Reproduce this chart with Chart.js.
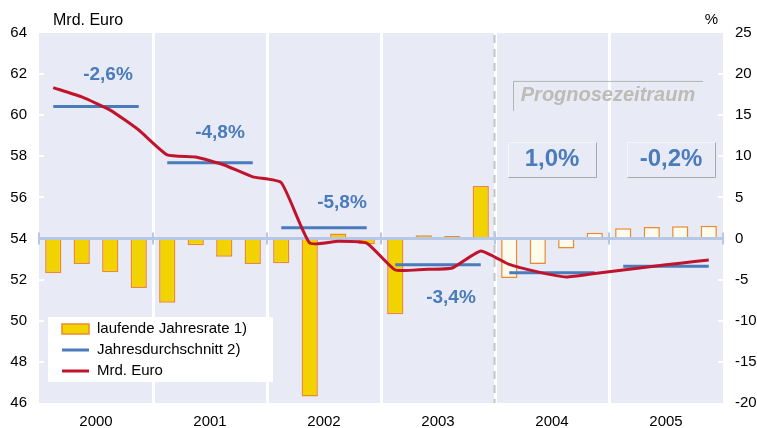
<!DOCTYPE html>
<html lang="de">
<head>
<meta charset="utf-8">
<title>Mrd. Euro</title>
<script src="https://cdn.jsdelivr.net/npm/chart.js@4.4.1/dist/chart.umd.min.js"></script>
<style>
  html, body { margin: 0; padding: 0; background: #fff; }
  #chart { display: block; }
</style>
</head>
<body>
<canvas id="chart" width="757" height="428"></canvas>
<script>
// Years shown on the axis.
const years = ['2000', '2001', '2002', '2003', '2004', '2005'];

// One category per quarter.
const quarters = [
  'I/00', 'II/00', 'III/00', 'IV/00',
  'I/01', 'II/01', 'III/01', 'IV/01',
  'I/02', 'II/02', 'III/02', 'IV/02',
  'I/03', 'II/03', 'III/03', 'IV/03',
  'I/04', 'II/04', 'III/04', 'IV/04',
  'I/05', 'II/05', 'III/05', 'IV/05'
];

// Laufende Jahresrate in % (right axis).
const quarterRates = [
  -4.2, -3.1, -4.1, -6.0,
  -7.8, -0.8, -2.2, -3.1,
  -3.0, -19.2, 0.6, -0.7,
  -9.2, 0.4, 0.3, 6.4,
  -4.8, -3.1, -1.2, 0.7,
  1.25, 1.4, 1.5, 1.55
];

// Mrd. Euro per quarter (left axis).
const euroLevels = [
  61.34, 60.89, 60.25, 59.28,
  58.07, 57.97, 57.58, 57.0,
  56.72, 53.78, 53.87, 53.78,
  52.47, 52.5, 52.57, 53.4,
  52.74, 52.38, 52.13, 52.3,
  52.47, 52.64, 52.8, 52.96
];

// Jahresdurchschnitt in Mrd. Euro, one value per year.
const yearAverages = [60.42, 57.69, 54.52, 52.73, 52.34, 52.65];

// Change of the annual average, as printed in the chart.
const yearRates = ['-2,6%', '-4,8%', '-5,8%', '-3,4%', '1,0%', '-0,2%'];

// First forecast year.
const forecastYear = '2004';
const forecastLabel = 'Prognosezeitraum';

// Axis ticks.
const leftTicks = [46, 48, 50, 52, 54, 56, 58, 60, 62, 64];
const rightTicks = [-20, -15, -10, -5, 0, 5, 10, 15, 20, 25];

// Where the rate labels sit: offset from the year centre (px) and height on the left axis.
const rateLabelPlaces = [
  { dx: 12, y: 61.96, size: 19, box: false },
  { dx: 10, y: 59.14, size: 19, box: false },
  { dx: 18, y: 55.75, size: 19, box: false },
  { dx: 13, y: 51.14, size: 19, box: false },
  { dx: 0, y: 57.85, size: 24, box: true },
  { dx: 5, y: 57.85, size: 24, box: true }
];

const FONT = "'Liberation Sans', Arial, sans-serif";
const BLUE = '#4a7bbb';
const RED = '#c0142d';
const YELLOW = '#f2d300';
const ORANGE = '#ee8a2c';
const CREAM = '#fdfbec';
const PLOT_BG = '#e8eaf6';

Chart.defaults.font.family = FONT;
Chart.defaults.color = '#000';

var forecastStart = years.indexOf(forecastYear) * 4;

// Extras: background, year separators, zero line, labels and legend.
const chartDecor = {
  id: 'chartDecor',
  beforeDraw(chart) {
    const ctx = chart.ctx;
    const a = chart.chartArea;
    ctx.save();
    ctx.fillStyle = PLOT_BG;
    ctx.fillRect(a.left, a.top, a.right - a.left, a.bottom - a.top);
    ctx.restore();
  },
  beforeDatasetsDraw(chart) {
    const ctx = chart.ctx;
    const a = chart.chartArea;
    const xs = chart.scales.xYear;
    const step = xs.width / years.length;
    ctx.save();

    // White lines between the years.
    ctx.strokeStyle = '#ffffff';
    ctx.lineWidth = 3;
    for (let i = 1; i < years.length; i++) {
      const x = Math.round(xs.left + i * step) + 0.5;
      ctx.beginPath();
      ctx.moveTo(x, a.top);
      ctx.lineTo(x, a.bottom);
      ctx.stroke();
    }

    // Dashed line where the forecast starts.
    const fx = Math.round(xs.left + years.indexOf(forecastYear) * step) - 0.5;
    ctx.strokeStyle = '#c3c3c3';
    ctx.lineWidth = 2;
    ctx.setLineDash([8, 6]);
    ctx.beginPath();
    ctx.moveTo(fx, a.top + 2);
    ctx.lineTo(fx, a.bottom);
    ctx.stroke();
    ctx.setLineDash([]);

    // Small white tick marks on the inside of both axes.
    ctx.strokeStyle = '#ffffff';
    ctx.lineWidth = 2;
    chart.scales.yL.ticks.forEach(function (t) {
      const y = Math.round(chart.scales.yL.getPixelForValue(t.value));
      if (y <= a.top + 1 || y >= a.bottom - 1) return;
      ctx.beginPath();
      ctx.moveTo(a.left, y);
      ctx.lineTo(a.left + 5, y);
      ctx.stroke();
    });
    chart.scales.yR.ticks.forEach(function (t) {
      const y = Math.round(chart.scales.yR.getPixelForValue(t.value));
      if (y <= a.top + 1 || y >= a.bottom - 1) return;
      ctx.beginPath();
      ctx.moveTo(a.right - 5, y);
      ctx.lineTo(a.right, y);
      ctx.stroke();
    });
    ctx.restore();
  },
  afterDatasetDraw(chart, args) {
    if (args.index !== 0) return;
    // Zero line over the bars, with ticks at the year boundaries.
    const ctx = chart.ctx;
    const a = chart.chartArea;
    const xs = chart.scales.xYear;
    const step = xs.width / years.length;
    const y0 = chart.scales.yR.getPixelForValue(0);
    ctx.save();
    ctx.strokeStyle = '#b5c8e6';
    ctx.lineWidth = 3;
    ctx.beginPath();
    ctx.moveTo(a.left, y0);
    ctx.lineTo(a.right, y0);
    ctx.stroke();
    ctx.lineWidth = 2;
    for (let i = 0; i <= years.length; i++) {
      const x = Math.round(xs.left + i * step);
      ctx.beginPath();
      ctx.moveTo(x, y0 - 6);
      ctx.lineTo(x, y0 + 6);
      ctx.stroke();
    }
    ctx.restore();
  },
  afterDraw(chart) {
    const ctx = chart.ctx;
    const a = chart.chartArea;
    const xs = chart.scales.xYear;
    const yL = chart.scales.yL;
    const step = xs.width / years.length;
    ctx.save();

    // Axis titles.
    ctx.fillStyle = '#000';
    ctx.font = '16px ' + FONT;
    ctx.textBaseline = 'alphabetic';
    ctx.textAlign = 'left';
    ctx.fillText('Mrd. Euro', 53, 25);
    ctx.font = '15px ' + FONT;
    ctx.textAlign = 'right';
    ctx.fillText('%', 718, 24);

    // Forecast label with its box.
    const px = xs.left + (years.indexOf(forecastYear) + 1) * step - 1;
    const py = yL.getPixelForValue(60.94);
    ctx.font = 'italic bold 20px ' + FONT;
    ctx.textAlign = 'center';
    ctx.textBaseline = 'middle';
    ctx.fillStyle = '#bdbbb6';
    ctx.fillText(forecastLabel, px, py);
    const pw = 190, ph = 30;
    ctx.lineWidth = 1;
    ctx.strokeStyle = '#b4b4b4';
    ctx.beginPath();
    ctx.moveTo(px - pw / 2 + 0.5, py + ph / 2);
    ctx.lineTo(px - pw / 2 + 0.5, py - ph / 2 + 0.5);
    ctx.lineTo(px + pw / 2, py - ph / 2 + 0.5);
    ctx.stroke();

    // Annual change rates.
    yearRates.forEach(function (txt, i) {
      const place = rateLabelPlaces[i];
      const x = xs.getPixelForValue(i) + place.dx;
      const y = yL.getPixelForValue(place.y);
      ctx.font = 'bold ' + place.size + 'px ' + FONT;
      ctx.fillStyle = BLUE;
      ctx.textAlign = 'center';
      ctx.textBaseline = 'middle';
      ctx.fillText(txt, x, y);
      if (place.box) {
        const bw = 88, bh = 35;
        const l = Math.round(x - bw / 2) + 0.5, t = Math.round(y - bh / 2) + 0.5;
        ctx.lineWidth = 1;
        ctx.strokeStyle = '#f4f5fb';
        ctx.beginPath();
        ctx.moveTo(l, t + bh);
        ctx.lineTo(l, t);
        ctx.lineTo(l + bw, t);
        ctx.stroke();
        ctx.strokeStyle = '#a9a9ad';
        ctx.beginPath();
        ctx.moveTo(l + bw, t);
        ctx.lineTo(l + bw, t + bh);
        ctx.lineTo(l, t + bh);
        ctx.stroke();
      }
    });

    // Legend inside the plot.
    const lx = a.left + 9, ly = Math.round(yL.getPixelForValue(50.2));
    ctx.fillStyle = '#ffffff';
    ctx.fillRect(lx, ly, 225, 65);
    ctx.font = '15px ' + FONT;
    ctx.textAlign = 'left';
    ctx.textBaseline = 'middle';
    chart.data.datasets.forEach(function (ds, i) {
      const rowY = ly + 12 + i * 21;
      if (ds.type === 'bar') {
        ctx.fillStyle = YELLOW;
        ctx.fillRect(lx + 14, rowY - 5, 27, 10);
        ctx.strokeStyle = ORANGE;
        ctx.lineWidth = 1.5;
        ctx.strokeRect(lx + 14, rowY - 5, 27, 10);
      } else {
        ctx.strokeStyle = ds.borderColor;
        ctx.lineWidth = 3;
        ctx.beginPath();
        ctx.moveTo(lx + 14, rowY);
        ctx.lineTo(lx + 41, rowY);
        ctx.stroke();
      }
      ctx.fillStyle = '#000';
      ctx.fillText(ds.label, lx + 49, rowY);
    });
    ctx.restore();
  }
};

// Build the data for the annual average: each quarter carries its year's value.
var averageByQuarter = quarters.map(function (q, i) {
  return yearAverages[Math.floor(i / 4)];
});

// Create a new chart.
var ctx = document.querySelector('#chart').getContext('2d');
var chart = new Chart(ctx, {
  data: {
    labels: quarters,
    datasets: [{
      type: 'bar',
      label: 'laufende Jahresrate 1)',
      data: quarterRates,
      xAxisID: 'x',
      yAxisID: 'yR',
      backgroundColor: quarterRates.map(function (v, i) { return i < forecastStart ? YELLOW : CREAM; }),
      borderColor: ORANGE,
      borderWidth: 1.5,
      borderSkipped: false,
      barPercentage: 0.57,
      categoryPercentage: 1,
      order: 3
    }, {
      type: 'line',
      label: 'Jahresdurchschnitt 2)',
      data: averageByQuarter,
      xAxisID: 'x',
      yAxisID: 'yL',
      borderColor: BLUE,
      borderWidth: 3,
      pointRadius: 0,
      tension: 0,
      segment: {
        // Only join quarters of the same year.
        borderColor: function (c) {
          return Math.floor(c.p0DataIndex / 4) === Math.floor(c.p1DataIndex / 4) ? BLUE : 'rgba(0,0,0,0)';
        }
      },
      order: 2
    }, {
      type: 'line',
      label: 'Mrd. Euro',
      data: euroLevels,
      xAxisID: 'x',
      yAxisID: 'yL',
      borderColor: RED,
      borderWidth: 3,
      pointRadius: 0,
      tension: 0.15,
      order: 1
    }]
  },
  options: {
    responsive: false,
    animation: false,
    layout: { padding: { top: 33, left: 0, right: 0, bottom: 0 } },
    plugins: {
      legend: { display: false },
      tooltip: { enabled: false }
    },
    scales: {
      x: {
        type: 'category',
        display: false,
        offset: true
      },
      xYear: {
        type: 'category',
        labels: years,
        position: 'bottom',
        offset: true,
        grid: { display: false, drawTicks: false },
        border: { display: false },
        ticks: { font: { size: 15 }, padding: 10, color: '#000' },
        afterFit: function (scale) { scale.height = 25; }
      },
      yL: {
        type: 'linear',
        position: 'left',
        min: 46,
        max: 64,
        grid: { display: false, drawTicks: false },
        border: { display: false },
        ticks: { font: { size: 15 }, padding: 12, color: '#000' },
        afterBuildTicks: function (scale) {
          scale.ticks = leftTicks.map(function (v) { return { value: v }; });
        },
        afterFit: function (scale) { scale.width = 39; }
      },
      yR: {
        type: 'linear',
        position: 'right',
        min: -20,
        max: 25,
        grid: { display: false, drawTicks: false },
        border: { display: false },
        ticks: { font: { size: 15 }, padding: 12, color: '#000' },
        afterBuildTicks: function (scale) {
          scale.ticks = rightTicks.map(function (v) { return { value: v }; });
        },
        afterFit: function (scale) { scale.width = 34; }
      }
    }
  },
  plugins: [chartDecor]
});
</script>
</body>
</html>
